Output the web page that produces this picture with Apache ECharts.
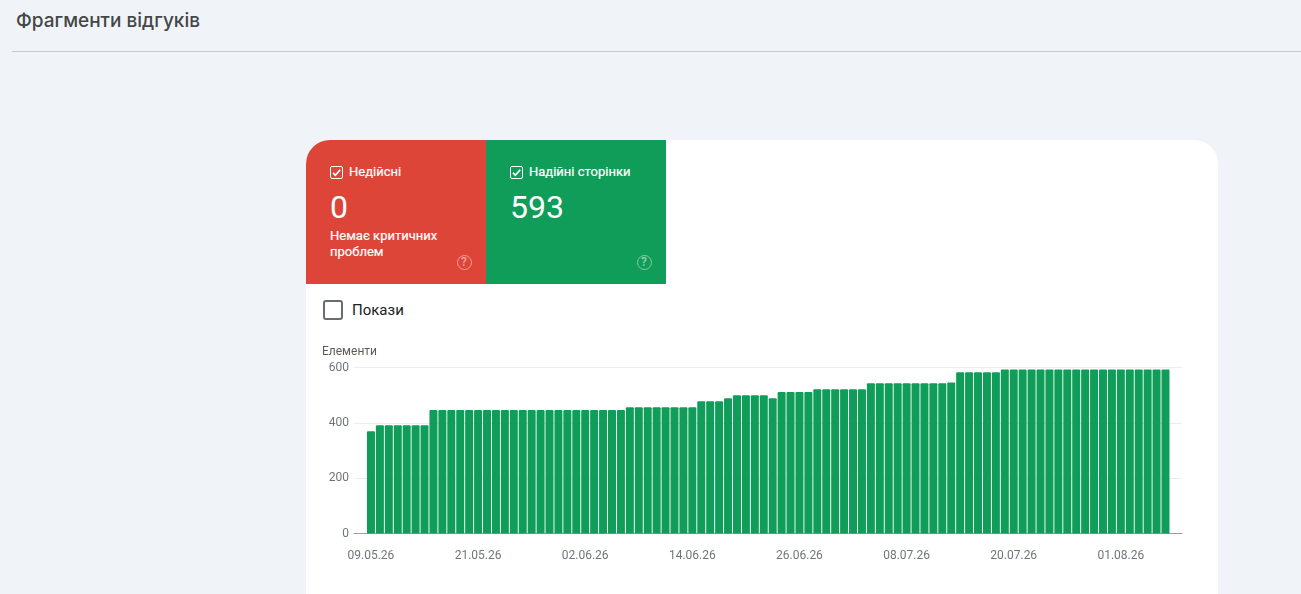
<!DOCTYPE html>
<html lang="uk">
<head>
<meta charset="utf-8">
<title>Фрагменти відгуків</title>
<script src="https://cdn.jsdelivr.net/npm/echarts@6/dist/echarts.min.js"></script>
<style>
html,body{margin:0;padding:0;width:1301px;height:594px;overflow:hidden;background:#f0f4f9;font-family:Roboto,sans-serif}
.abs{position:absolute}
#head{left:16px;top:10px;font-family:Inter,sans-serif;font-size:19px;font-weight:500;color:#444746;line-height:22px;white-space:nowrap}
#rule{left:12px;top:51px;width:1289px;height:1px;background:#c7c9cc}
#card{left:306px;top:140px;width:912px;height:600px;background:#fff;border-radius:24px;overflow:hidden}
.tile{position:absolute;top:0;width:180px;height:144px;color:#fff}
#t1{left:0;background:#dd4539}
#t2{left:180px;background:#109d59}
.cb{position:absolute;left:24px;top:26px;width:11px;height:11px;border:1px solid #fff;border-radius:2px}
.cb svg{position:absolute;left:0;top:0;width:11px;height:11px}
.lbl{position:absolute;left:43px;top:24px;font-size:13px;font-weight:400;line-height:16px;white-space:nowrap;-webkit-text-stroke:.2px #fff}
.num{position:absolute;left:24px;top:48px;font-size:32px;line-height:38px;font-weight:400}
.sub{position:absolute;left:24px;top:88px;font-size:13px;font-weight:400;line-height:16px;width:130px;-webkit-text-stroke:.2px #fff}
.q{position:absolute;left:150.5px;top:115px;width:13px;height:13px;border:1.5px solid rgba(255,255,255,.45);border-radius:50%;font-size:12px;line-height:13px;text-align:center;color:rgba(255,255,255,.55);font-weight:500}
#imp{position:absolute;left:16.5px;top:160px;width:16px;height:16px;border:2px solid #6a6d70;border-radius:3px}
#implbl{position:absolute;left:46px;top:160px;font-size:15px;line-height:20px;color:#202124}
#chart{position:absolute;left:0;top:190px;width:912px;height:260px}
</style>
</head>
<body>
<div class="abs" id="head">Фрагменти відгуків</div>
<div class="abs" id="rule"></div>
<div class="abs" id="card">
  <div class="tile" id="t1">
    <div class="cb"><svg viewBox="0 0 11 11"><path d="M2 5.8l2.4 2.4L9.2 2.8" fill="none" stroke="#fff" stroke-width="1.7"/></svg></div>
    <div class="lbl">Недійсні</div>
    <div class="num">0</div>
    <div class="sub">Немає критичних проблем</div>
    <div class="q">?</div>
  </div>
  <div class="tile" id="t2">
    <div class="cb"><svg viewBox="0 0 11 11"><path d="M2 5.8l2.4 2.4L9.2 2.8" fill="none" stroke="#fff" stroke-width="1.7"/></svg></div>
    <div class="lbl">Надійні сторінки</div>
    <div class="num">593</div>
    <div class="q">?</div>
  </div>
  <div id="imp"></div>
  <div id="implbl">Покази</div>
  <div id="chart"></div>
</div>
<script>
const dates = ["09.05.26","10.05.26","11.05.26","12.05.26","13.05.26","14.05.26","15.05.26","16.05.26","17.05.26","18.05.26",
"19.05.26","20.05.26","21.05.26","22.05.26","23.05.26","24.05.26","25.05.26","26.05.26","27.05.26","28.05.26",
"29.05.26","30.05.26","31.05.26","01.06.26","02.06.26","03.06.26","04.06.26","05.06.26","06.06.26","07.06.26",
"08.06.26","09.06.26","10.06.26","11.06.26","12.06.26","13.06.26","14.06.26","15.06.26","16.06.26","17.06.26",
"18.06.26","19.06.26","20.06.26","21.06.26","22.06.26","23.06.26","24.06.26","25.06.26","26.06.26","27.06.26",
"28.06.26","29.06.26","30.06.26","01.07.26","02.07.26","03.07.26","04.07.26","05.07.26","06.07.26","07.07.26",
"08.07.26","09.07.26","10.07.26","11.07.26","12.07.26","13.07.26","14.07.26","15.07.26","16.07.26","17.07.26",
"18.07.26","19.07.26","20.07.26","21.07.26","22.07.26","23.07.26","24.07.26","25.07.26","26.07.26","27.07.26",
"28.07.26","29.07.26","30.07.26","31.07.26","01.08.26","02.08.26","03.08.26","04.08.26","05.08.26","06.08.26"];
const items = [370,391,391,391,391,391,391,
446,446,446,446,446,446,446,446,446,446,446,446,446,446,446,446,446,446,446,446,446,446,
456,456,456,456,456,456,456,456,
478,478,478,489,500,500,500,500,489,511,511,511,511,
521,521,521,521,521,521,
543,543,543,543,543,543,543,543,543,546,
583,583,583,583,583,
593,593,593,593,593,593,593,593,593,593,593,593,593,593,593,593,593,593,593];
const labelIndexes = [0,12,24,36,48,60,72,84];

const chart = echarts.init(document.getElementById('chart'), null, {renderer:'canvas'});
chart.setOption({
  animation:false,
  textStyle:{fontFamily:'Roboto'},
  title:{text:'Елементи',left:11,top:10,padding:[5,5],textStyle:{fontSize:12,fontWeight:400,color:'#5f5a55',fontFamily:'Roboto',lineHeight:14}},
  grid:{left:48,right:36,top:37.5,height:166},
  xAxis:{
    type:'value',min:-1.9,max:90.85,
    axisLine:{show:true,onZero:true,lineStyle:{color:'#9aa0a6',width:1}},
    axisTick:{show:false},
    splitLine:{show:false},
    axisLabel:{
      customValues:labelIndexes,
      formatter:v=>dates[Math.round(v)]||'',
      color:'#70757a',fontSize:12,margin:16
    }
  },
  yAxis:{
    type:'value',min:0,max:600,interval:200,
    axisLine:{show:false},axisTick:{show:false},
    splitLine:{lineStyle:{color:'#ececec',width:1}},
    axisLabel:{color:'#70757a',fontSize:12,margin:5}
  },
  series:[{
    type:'bar',
    data:items.map((v,i)=>[i,v]),
    barWidth:8,
    itemStyle:{color:'#109d59',borderRadius:[1,1,0,0]},
    silent:true
  }]
});
</script>
</body>
</html>
